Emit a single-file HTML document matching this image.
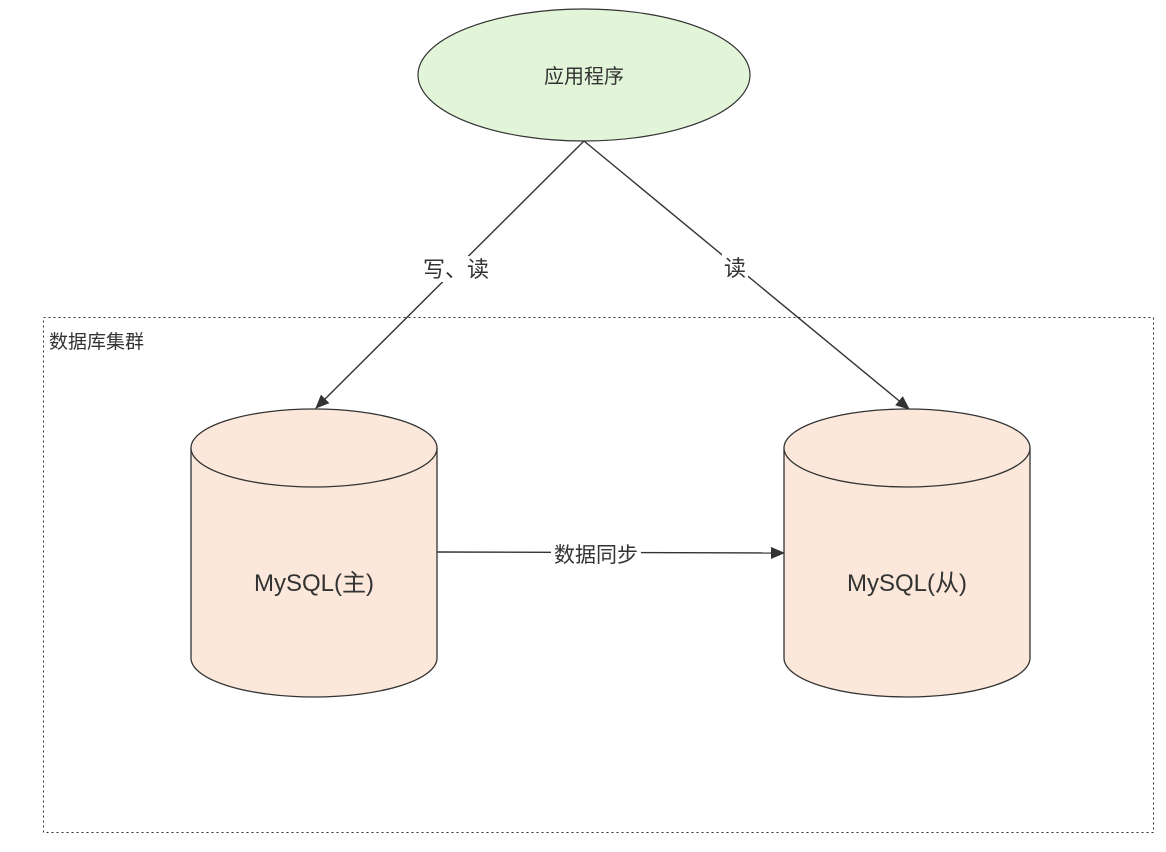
<!DOCTYPE html>
<html><head><meta charset="utf-8"><style>
html,body{margin:0;padding:0;background:#fff;}
svg{display:block;}
text{font-family:"Liberation Sans","Noto Sans CJK SC",sans-serif;fill:#333;}
</style></head><body>
<svg width="1166" height="852" viewBox="0 0 1166 852" xmlns="http://www.w3.org/2000/svg">
<defs>
<marker id="a" markerWidth="14" markerHeight="12" refX="13" refY="6" orient="auto" markerUnits="userSpaceOnUse">
<path d="M0,0 L14,6 L0,12 Z" fill="#333"/>
</marker>
</defs>
<rect x="43.5" y="317.5" width="1110" height="515" fill="none" stroke="#333" stroke-width="1" stroke-dasharray="2,3"/>
<text x="49" y="348" font-size="19">数据库集群</text>

<ellipse cx="584" cy="75" rx="166" ry="66" fill="#e3f5d9" stroke="#333" stroke-width="1.2"/>
<text x="584" y="83" font-size="20" text-anchor="middle">应用程序</text>

<line x1="584" y1="141" x2="316" y2="408" stroke="#333" stroke-width="1.4" marker-end="url(#a)"/>
<rect x="414" y="256" width="84" height="26" fill="#fff"/>
<text x="456" y="277" font-size="22" text-anchor="middle">写、读</text>

<line x1="584" y1="141" x2="909" y2="409" stroke="#333" stroke-width="1.4" marker-end="url(#a)"/>
<rect x="722" y="254" width="26" height="26" fill="#fff"/>
<text x="735" y="276" font-size="22" text-anchor="middle">读</text>

<path d="M191,448 L191,658 A123,39 0 0 0 437,658 L437,448" fill="#fbe8da" stroke="#333" stroke-width="1.3"/>
<ellipse cx="314" cy="448" rx="123" ry="39" fill="#fbe8da" stroke="#333" stroke-width="1.3"/>
<text x="314" y="591" font-size="24" text-anchor="middle">MySQL(主)</text>

<path d="M784,448 L784,658 A123,39 0 0 0 1030,658 L1030,448" fill="#fbe8da" stroke="#333" stroke-width="1.3"/>
<ellipse cx="907" cy="448" rx="123" ry="39" fill="#fbe8da" stroke="#333" stroke-width="1.3"/>
<text x="907" y="591" font-size="24" text-anchor="middle">MySQL(从)</text>

<line x1="437" y1="552" x2="784" y2="553" stroke="#333" stroke-width="1.4" marker-end="url(#a)"/>
<rect x="551" y="543" width="90" height="22" fill="#fff"/>
<text x="596" y="562" font-size="21" text-anchor="middle">数据同步</text>
</svg>
</body></html>
